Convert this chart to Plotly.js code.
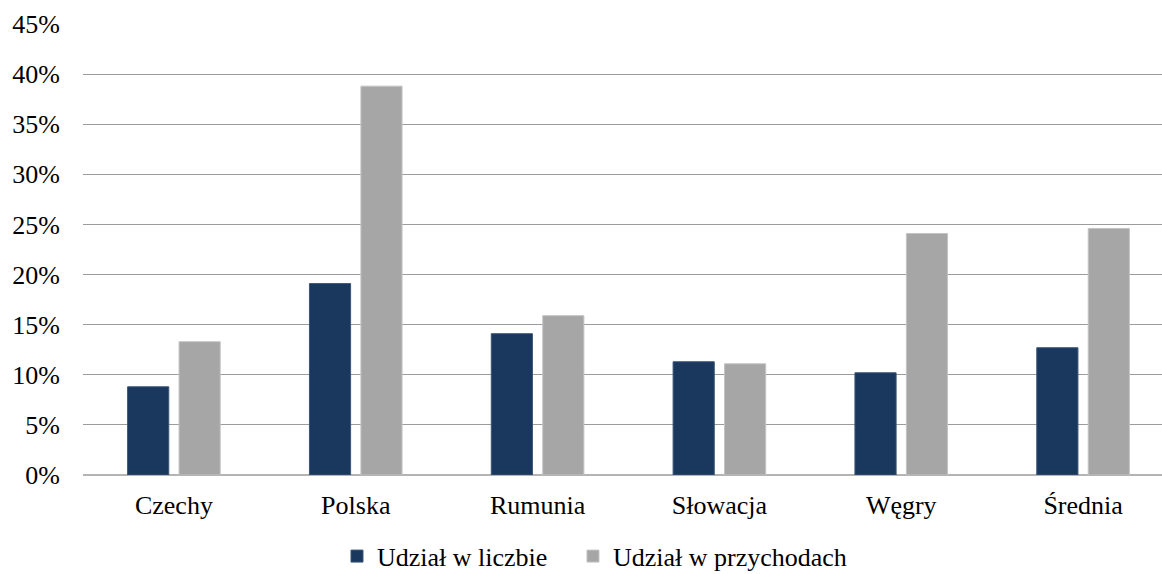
<!DOCTYPE html>
<html>
<head>
<meta charset="utf-8">
<script src="https://cdn.plot.ly/plotly-3.0.1.min.js"></script>
<style>
  html, body { margin: 0; padding: 0; background: #ffffff; }
  #chart { width: 1162px; height: 574px; }
</style>
</head>
<body>
<div id="chart"></div>
<script>
// Countries and the two shares (in percent)
const categories = ['Czechy', 'Polska', 'Rumunia', 'Słowacja', 'Węgry', 'Średnia'];
const shareCount = [8.8, 19.1, 14.1, 11.3, 10.2, 12.7];
const shareRevenue = [13.3, 38.8, 15.9, 11.1, 24.1, 24.6];
const seriesNames = ['Udział w liczbie', 'Udział w przychodach'];
const yTickValues = [0, 5, 10, 15, 20, 25, 30, 35, 40, 45];
const yTickLabels = yTickValues.map(v => v + '%');

const FONT = '"Liberation Serif", "Times New Roman", serif';

const traces = [
  {
    type: 'bar',
    name: seriesNames[0],
    legend: 'legend',
    x: categories,
    y: shareCount,
    marker: { color: '#1a375e', line: { color: '#3b5677', width: 1 } },
    hoverinfo: 'x+y'
  },
  {
    type: 'bar',
    name: seriesNames[1],
    legend: 'legend2',
    x: categories,
    y: shareRevenue,
    marker: { color: '#a6a6a6', line: { color: '#c4c4c4', width: 1 } },
    hoverinfo: 'x+y'
  }
];

// one legend box per series, placed side by side under the plot
function legendBox(xPos) {
  return {
    orientation: 'h',
    xref: 'paper',
    x: xPos,
    xanchor: 'left',
    yref: 'container',
    y: 0.031,
    yanchor: 'middle',
    font: { family: FONT, size: 26, color: '#000000' },
    itemwidth: 30,
    bgcolor: 'rgba(0,0,0,0)'
  };
}

const layout = {
  width: 1162,
  height: 574,
  margin: { l: 83, r: 0, t: 24, b: 99, pad: 0, autoexpand: false },
  paper_bgcolor: '#ffffff',
  plot_bgcolor: '#ffffff',
  font: { family: FONT, size: 26, color: '#000000' },
  barmode: 'group',
  bargap: 0.434,
  bargroupgap: 0.2,
  showlegend: true,
  legend: legendBox(0.2354),
  legend2: legendBox(0.4541),
  xaxis: {
    type: 'category',
    range: [-0.5, 5.434],
    showgrid: false,
    zeroline: false,
    showline: false,
    ticks: '',
    ticklabelstandoff: 12,
    tickfont: { family: FONT, size: 26, color: '#000000' },
    fixedrange: true
  },
  yaxis: {
    range: [0, 45],
    tickvals: yTickValues,
    ticktext: yTickLabels,
    showgrid: true,
    gridcolor: '#9c9c9c',
    gridwidth: 1,
    zeroline: true,
    zerolinecolor: '#b4b4b4',
    zerolinewidth: 2,
    showline: false,
    ticks: '',
    ticklabelstandoff: 22,
    tickfont: { family: FONT, size: 26, color: '#000000' },
    fixedrange: true
  }
};

Plotly.newPlot('chart', traces, layout, { displayModeBar: false, staticPlot: true });
</script>
</body>
</html>
